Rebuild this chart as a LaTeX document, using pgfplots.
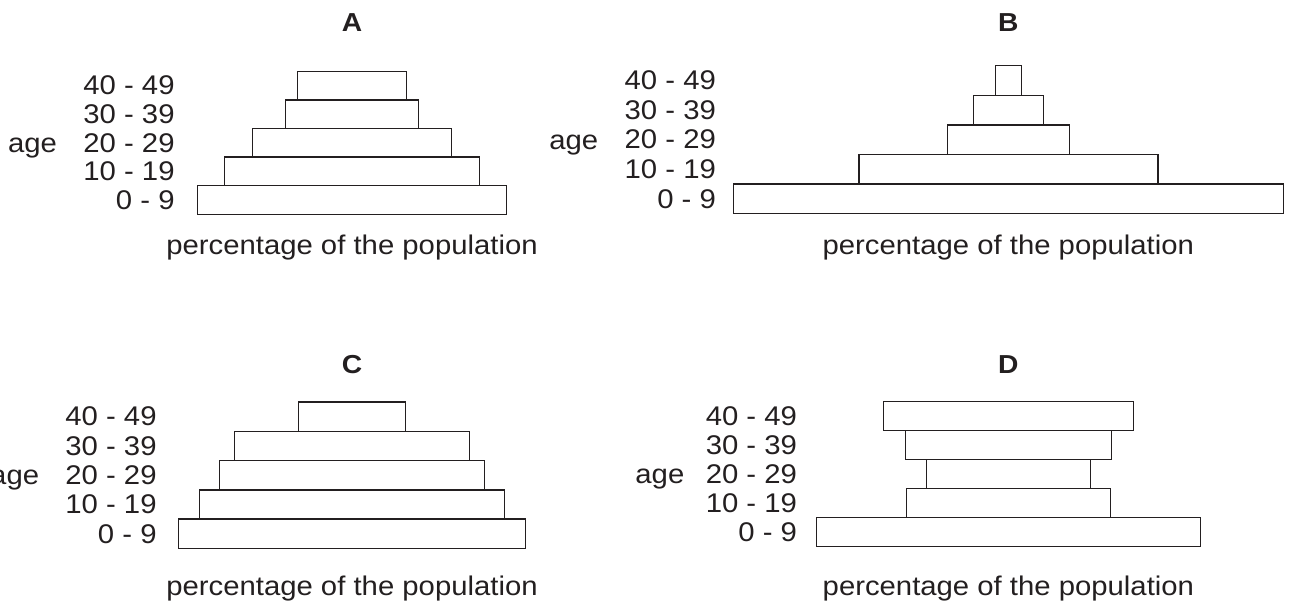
\documentclass[border=0pt]{standalone}
\usepackage{fontspec}
\setmainfont{Liberation Sans}[FakeStretch=1.085]
\usepackage{pgfplots}
\usepackage{pgfplotstable}
\pgfplotsset{compat=1.18}
\definecolor{ink}{HTML}{231F20}

\newcommand\lab{\fontsize{13.5pt}{16pt}\selectfont}
\newcommand\tit{\fontsize{13pt}{15pt}\selectfont\bfseries}

% bar length of each age group, 0 = 0-9 ... 4 = 40-49
\pgfplotstableread{
grp w
0 30.9
1 25.5
2 19.9
3 13.3
4 10.9
}\dataA
\pgfplotstableread{
grp w
0 55.0
1 29.9
2 12.2
3 7.0
4 2.6
}\dataB
\pgfplotstableread{
grp w
0 34.7
1 30.5
2 26.5
3 23.5
4 10.7
}\dataC
\pgfplotstableread{
grp w
0 38.4
1 20.4
2 16.4
3 20.6
4 25.0
}\dataD

\pgfplotsset{
  pyramid/.style={
    xbar stacked, bar width=1, x=5pt,
    xmin=0, ymin=-0.5, ymax=4.5, enlargelimits=false, clip=false,
    axis line style={draw=none}, major tick length=0pt,
    xtick=\empty, ytick={0,1,2,3,4},
    yticklabels={0 - 9,10 - 19,20 - 29,30 - 39,40 - 49},
    yticklabel style={font=\lab, inner sep=0pt, text=ink},
    ylabel={age}, xlabel={percentage of the population},
    label style={font=\lab, inner sep=0pt, text=ink},
    ylabel style={rotate=-90, at={(ticklabel cs:0.5)}, anchor=base east, yshift=-4.83pt},
    xlabel style={at={(axis description cs:0.5,0)}, anchor=base},
    title style={font=\tit, at={(axis description cs:0.5,1)}, anchor=base, inner sep=0pt, text=ink},
    anchor=south,
  },
  % invisible spacer that centres each bar
  half/.style={draw=none, fill=none},
  box/.style={draw=ink, fill=white, line width=0.7pt},
}

\begin{document}
\begin{tikzpicture}
\useasboundingbox (0,0) rectangle (645.5pt,-302pt);

\begin{axis}[pyramid, at={(176pt,-107.2pt)}, y=14.3pt, xmax=35.4,
  title={A}, title style={yshift=13.95pt},
  xlabel style={yshift=-20pt}, ylabel style={xshift=-13pt}]
\addplot[half] table[x expr=17.7-0.5*\thisrow{w}, y=grp] {\dataA};
\addplot[box] table[x=w, y=grp] {\dataA};
\end{axis}

\begin{axis}[pyramid, at={(504.15pt,-106.85pt)}, y=14.8pt, xmax=58.4,
  title={B}, title style={yshift=10.95pt},
  xlabel style={yshift=-20.4pt}, ylabel style={xshift=-13pt}]
\addplot[half] table[x expr=29.2-0.5*\thisrow{w}, y=grp] {\dataB};
\addplot[box] table[x=w, y=grp] {\dataB};
\end{axis}

\begin{axis}[pyramid, at={(176pt,-274.2pt)}, y=14.65pt, xmax=39,
  title={C}, title style={yshift=8.05pt},
  xlabel style={yshift=-23.55pt}, ylabel style={xshift=-12.95pt}]
\addplot[half] table[x expr=19.5-0.5*\thisrow{w}, y=grp] {\dataC};
\addplot[box] table[x=w, y=grp] {\dataC};
\end{axis}

\begin{axis}[pyramid, at={(504.2pt,-273.35pt)}, y=14.55pt, xmax=42.2,
  title={D}, title style={yshift=7.65pt},
  xlabel style={yshift=-24.4pt}, ylabel style={xshift=-10.55pt}]
\addplot[half] table[x expr=21.1-0.5*\thisrow{w}, y=grp] {\dataD};
\addplot[box] table[x=w, y=grp] {\dataD};
\end{axis}
\end{tikzpicture}
\end{document}
